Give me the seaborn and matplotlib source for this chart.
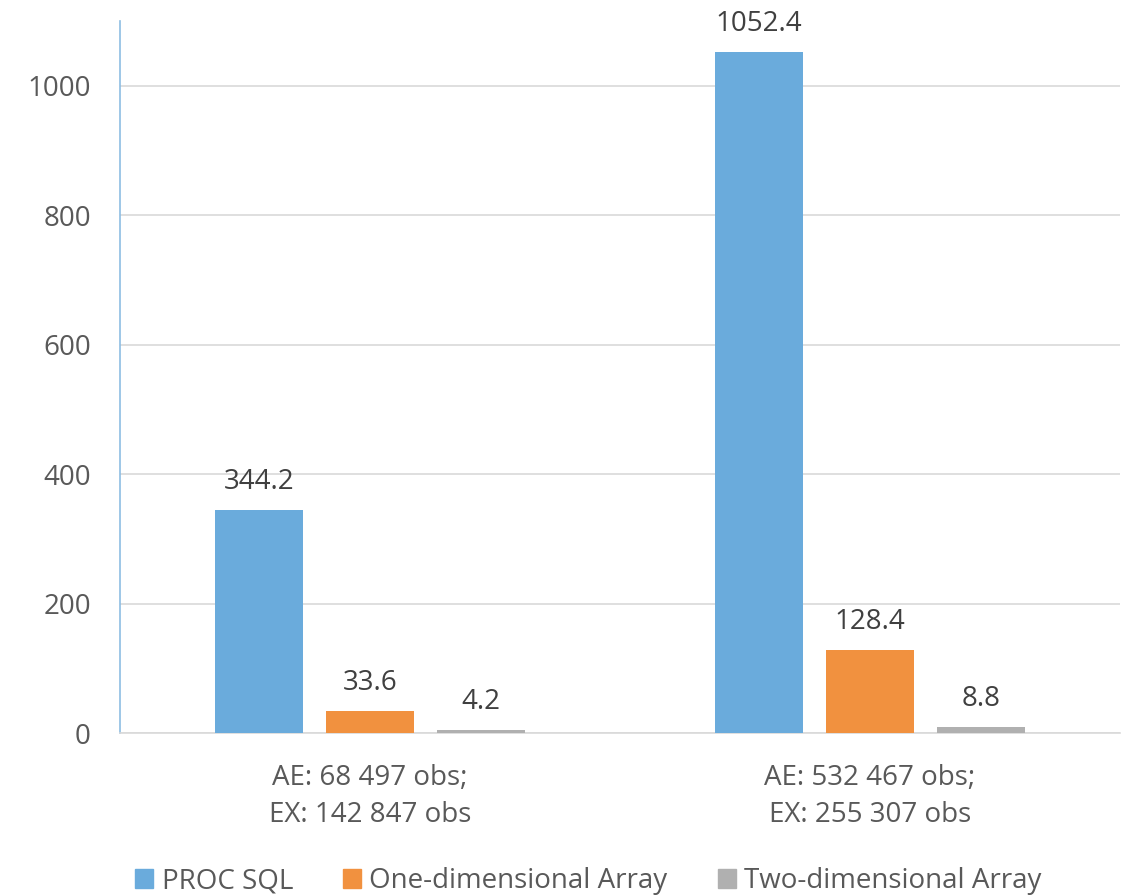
import matplotlib
matplotlib.use("Agg")
import matplotlib.pyplot as plt
import seaborn as sns
import pandas as pd

# Run times by method for two dataset sizes
categories = ["AE: 68 497 obs;\nEX: 142 847 obs", "AE: 532 467 obs;\nEX: 255 307 obs"]
methods = ["PROC SQL", "One-dimensional Array", "Two-dimensional Array"]
proc_sql = [344.2, 1052.4]
one_dim = [33.6, 128.4]
two_dim = [4.2, 8.8]
y_ticks = [0, 200, 400, 600, 800, 1000]

colors = ["#6AABDC", "#F1913F", "#B0B0B0"]

df = pd.DataFrame({
    "category": categories * 3,
    "method": [methods[0]] * 2 + [methods[1]] * 2 + [methods[2]] * 2,
    "value": proc_sql + one_dim + two_dim,
})

sns.set_theme(style="white")
plt.rcParams["font.family"] = ["Open Sans", "DejaVu Sans"]

fig = plt.figure(figsize=(11.27, 8.96), dpi=100)
ax = fig.add_axes([120 / 1127, 1 - 733 / 896, 1000 / 1127, (733 - 21) / 896])

sns.barplot(data=df, x="category", y="value", hue="method", order=categories,
            hue_order=methods, palette=colors, width=0.666, gap=0.215,
            saturation=1, errorbar=None, ax=ax, zorder=3, linewidth=0,
            legend=False)

ax.set_ylim(0, 1100)
ax.set_xlim(-0.5, 1.5)
ax.set_yticks(y_ticks)
ax.set_yticklabels([str(t) for t in y_ticks])
ax.grid(axis="y", color="#D9D9D9", linewidth=1.2, zorder=0)
ax.set_axisbelow(True)
ax.set_xlabel("")
ax.set_ylabel("")

for side in ["top", "right"]:
    ax.spines[side].set_visible(False)
ax.spines["left"].set_color("#8DBDE3")
ax.spines["left"].set_linewidth(1.2)
ax.spines["bottom"].set_color("#D9D9D9")
ax.spines["bottom"].set_linewidth(1.2)

ax.tick_params(axis="y", length=0, pad=21, labelsize=20, labelcolor="#595959")
ax.tick_params(axis="x", length=0, pad=22, labelsize=20, labelcolor="#595959")
for lbl in ax.get_xticklabels():
    lbl.set_linespacing(1.45)

for container in ax.containers:
    ax.bar_label(container, labels=[f"{v:.1f}" for v in container.datavalues],
                 padding=10, fontsize=20, color="#404040")

handles = [plt.Rectangle((0, 0), 1, 1, color=c) for c in colors]
fig.legend(handles, methods, loc="center", bbox_to_anchor=(0.522, 1 - 881 / 896),
           ncol=3, frameon=False, fontsize=20, labelcolor="#595959",
           handlelength=0.65, handleheight=0.65, handletextpad=0.3, columnspacing=1.8)

fig.savefig("out.png", dpi=100)
